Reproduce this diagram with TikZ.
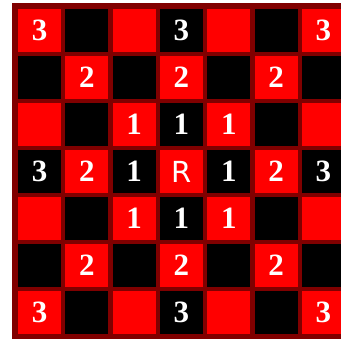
\documentclass[tikz,border=0pt]{standalone}
\usepackage{fontspec}
\newfontfamily\numfont{Liberation Serif}
\newfontfamily\rfont{DejaVu Sans}
\definecolor{frame}{HTML}{800000}
\newcommand\rlab{{\rfont\mdseries\fontsize{29}{29}\selectfont R}}
\begin{document}
\begin{tikzpicture}[x=1pt,y=-1pt,
  cell/.style={minimum width=43pt,minimum height=43pt,inner sep=0pt,draw=none,
    text=white,font=\numfont\bfseries\fontsize{31}{31}\selectfont},
  redcell/.style={cell,fill=red},
  blackcell/.style={cell,fill=black}]
\useasboundingbox (0,0) rectangle (341,339);
\fill[white] (0,0) rectangle (341,339);
\fill[frame] (12,3) rectangle (352,345);
\foreach \labs [count=\i from 0] in {
  {3,{},{},3,{},{},3},
  {{},2,{},2,{},2,{}},
  {{},{},1,1,1,{},{}},
  {3,2,1,\rlab,1,2,3},
  {{},{},1,1,1,{},{}},
  {{},2,{},2,{},2,{}},
  {3,{},{},3,{},{},3}}{
  \foreach \lab [count=\j from 0] in \labs {
    \pgfmathsetmacro\cx{39.5+47.33*\j}
    \pgfmathsetmacro\cy{30.5+47*\i}
    \pgfmathtruncatemacro\p{\i+\j}
    \ifodd\p
      \node[blackcell] (c\i\j) at (\cx,\cy) {\lab};
    \else
      \node[redcell] (c\i\j) at (\cx,\cy) {\lab};
    \fi
  }
}
\end{tikzpicture}
\end{document}
